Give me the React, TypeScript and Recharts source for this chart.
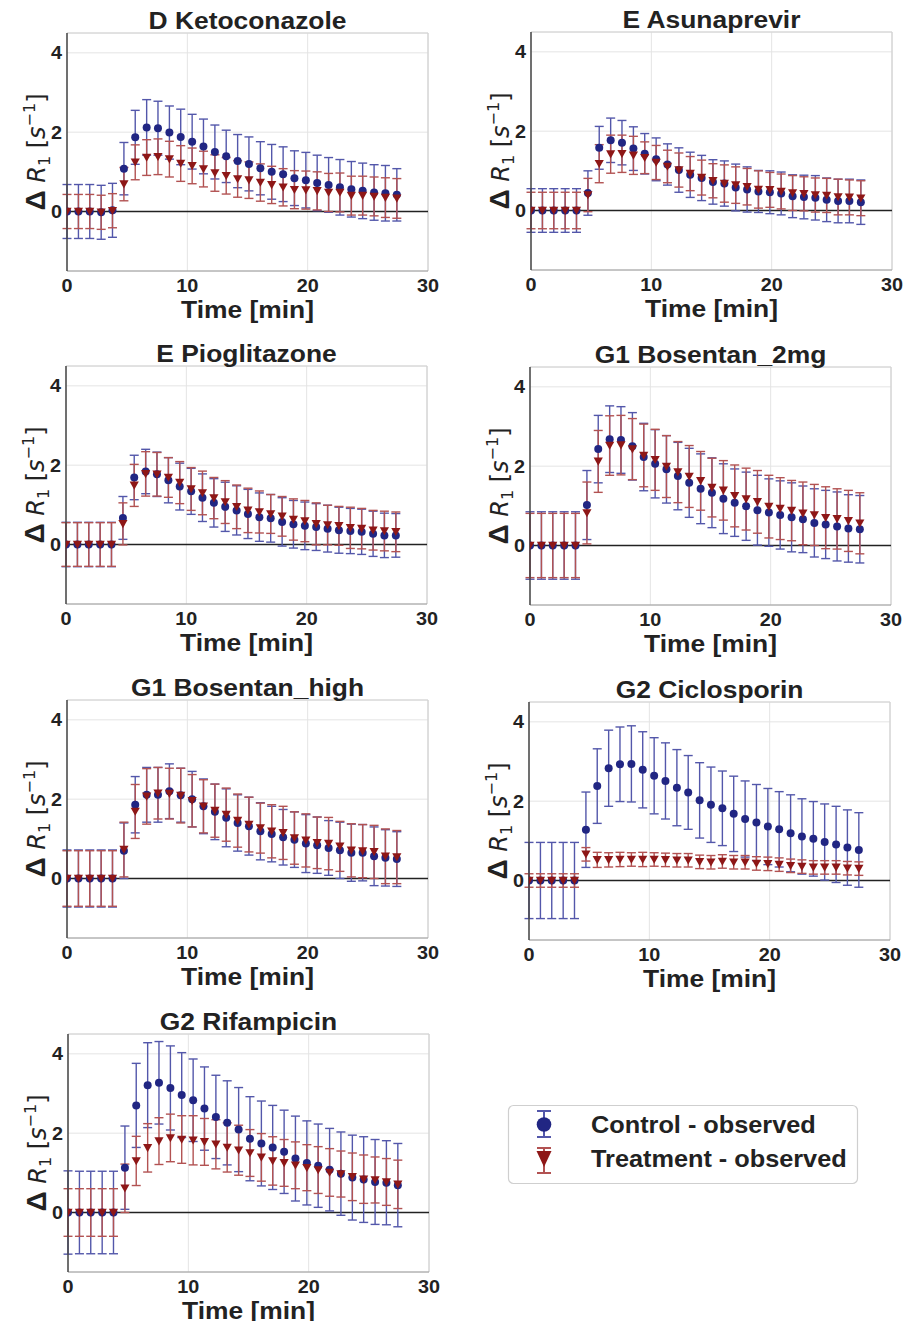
import React from "react";
import { ScatterChart, Scatter, XAxis, YAxis, CartesianGrid, ErrorBar, ReferenceLine } from "recharts";

// sampling times (min)
const times = [0, 0.95, 1.89, 2.84, 3.78, 4.73, 5.67, 6.62, 7.56, 8.51, 9.45, 10.4, 11.34, 12.29, 13.23, 14.18, 15.12, 16.07, 17.01, 17.96, 18.9, 19.85, 20.79, 21.74, 22.68, 23.63, 24.57, 25.52, 26.46, 27.41];

const ketoCtrl = [0, 0, 0, -0.02, 0.03, 1.08, 1.87, 2.12, 2.1, 1.99, 1.88, 1.76, 1.64, 1.5, 1.39, 1.27, 1.2, 1.09, 1.0, 0.94, 0.84, 0.79, 0.72, 0.67, 0.61, 0.56, 0.52, 0.48, 0.46, 0.42];
const ketoCtrlErr = [0.68, 0.68, 0.68, 0.68, 0.68, 0.66, 0.68, 0.7, 0.68, 0.67, 0.7, 0.69, 0.69, 0.68, 0.66, 0.67, 0.68, 0.67, 0.69, 0.69, 0.69, 0.7, 0.7, 0.69, 0.7, 0.7, 0.7, 0.7, 0.7, 0.66];
const ketoTrt = [0, 0, 0, -0.02, 0.02, 0.69, 1.24, 1.36, 1.38, 1.32, 1.21, 1.15, 1.07, 0.97, 0.9, 0.82, 0.79, 0.73, 0.67, 0.61, 0.55, 0.54, 0.52, 0.48, 0.48, 0.4, 0.4, 0.38, 0.35, 0.33];
const ketoTrtErr = [0.43, 0.43, 0.43, 0.43, 0.43, 0.42, 0.44, 0.45, 0.45, 0.45, 0.45, 0.45, 0.45, 0.46, 0.46, 0.46, 0.46, 0.47, 0.47, 0.47, 0.48, 0.48, 0.48, 0.48, 0.49, 0.49, 0.49, 0.49, 0.5, 0.5];

const asunCtrl = [0, 0, 0, 0, 0, 0.44, 1.58, 1.77, 1.71, 1.56, 1.43, 1.29, 1.16, 1.02, 0.9, 0.82, 0.72, 0.68, 0.58, 0.53, 0.48, 0.46, 0.43, 0.36, 0.34, 0.32, 0.27, 0.24, 0.24, 0.21];
const asunCtrlErr = [0.55, 0.55, 0.55, 0.55, 0.55, 0.56, 0.54, 0.56, 0.56, 0.55, 0.51, 0.54, 0.52, 0.56, 0.57, 0.57, 0.56, 0.57, 0.59, 0.57, 0.53, 0.54, 0.54, 0.54, 0.55, 0.56, 0.55, 0.55, 0.55, 0.56];
const asunTrt = [0, 0, 0, 0, 0, 0.39, 1.18, 1.42, 1.43, 1.39, 1.33, 1.21, 1.11, 1.02, 0.93, 0.83, 0.75, 0.68, 0.64, 0.6, 0.53, 0.52, 0.48, 0.44, 0.42, 0.39, 0.38, 0.34, 0.33, 0.31];
const asunTrtErr = [0.46, 0.46, 0.46, 0.46, 0.46, 0.42, 0.48, 0.48, 0.47, 0.48, 0.4, 0.43, 0.41, 0.43, 0.43, 0.44, 0.43, 0.47, 0.46, 0.46, 0.47, 0.44, 0.44, 0.44, 0.43, 0.43, 0.43, 0.45, 0.44, 0.44];

const pioCtrl = [0, 0, 0, 0, 0, 0.67, 1.69, 1.84, 1.77, 1.62, 1.46, 1.34, 1.18, 1.05, 0.95, 0.86, 0.77, 0.69, 0.66, 0.57, 0.51, 0.47, 0.44, 0.4, 0.36, 0.34, 0.32, 0.27, 0.23, 0.23];
const pioCtrlErr = [0.56, 0.56, 0.56, 0.56, 0.56, 0.54, 0.56, 0.56, 0.56, 0.57, 0.59, 0.58, 0.6, 0.61, 0.62, 0.62, 0.62, 0.61, 0.6, 0.61, 0.6, 0.6, 0.59, 0.59, 0.58, 0.57, 0.57, 0.57, 0.56, 0.55];
const pioTrt = [0, 0, 0, 0, 0, 0.52, 1.49, 1.78, 1.77, 1.69, 1.56, 1.4, 1.3, 1.17, 1.07, 0.95, 0.86, 0.82, 0.77, 0.71, 0.63, 0.59, 0.52, 0.49, 0.47, 0.42, 0.4, 0.36, 0.34, 0.32];
const pioTrtErr = [0.55, 0.55, 0.55, 0.55, 0.55, 0.53, 0.53, 0.56, 0.55, 0.5, 0.53, 0.54, 0.55, 0.52, 0.54, 0.55, 0.56, 0.53, 0.49, 0.5, 0.52, 0.52, 0.53, 0.5, 0.49, 0.52, 0.51, 0.5, 0.5, 0.5];

const bos2Ctrl = [0, 0, 0, 0, 0, 1.02, 2.43, 2.68, 2.66, 2.5, 2.23, 2.06, 1.92, 1.75, 1.58, 1.43, 1.33, 1.18, 1.08, 0.99, 0.89, 0.83, 0.77, 0.71, 0.66, 0.57, 0.53, 0.48, 0.43, 0.41];
const bos2CtrlErr = [0.85, 0.85, 0.85, 0.85, 0.85, 0.87, 0.85, 0.84, 0.84, 0.85, 0.85, 0.86, 0.85, 0.85, 0.87, 0.88, 0.88, 0.88, 0.85, 0.86, 0.88, 0.85, 0.86, 0.87, 0.84, 0.86, 0.86, 0.87, 0.85, 0.85];
const bos2Trt = [0, 0, 0, 0, 0, 0.82, 2.12, 2.52, 2.53, 2.43, 2.27, 2.16, 1.99, 1.85, 1.74, 1.63, 1.46, 1.39, 1.25, 1.17, 1.1, 0.98, 0.93, 0.88, 0.81, 0.77, 0.7, 0.67, 0.62, 0.56];
const bos2TrtErr = [0.81, 0.81, 0.81, 0.81, 0.81, 0.78, 0.78, 0.75, 0.75, 0.77, 0.79, 0.77, 0.78, 0.77, 0.78, 0.74, 0.74, 0.75, 0.78, 0.78, 0.79, 0.79, 0.78, 0.76, 0.79, 0.77, 0.78, 0.76, 0.77, 0.77];

const boshCtrl = [0, 0, 0, 0, 0, 0.7, 1.86, 2.11, 2.11, 2.2, 2.1, 2.0, 1.82, 1.68, 1.53, 1.4, 1.32, 1.19, 1.12, 1.04, 0.98, 0.88, 0.84, 0.77, 0.71, 0.65, 0.65, 0.56, 0.52, 0.49];
const boshCtrlErr = [0.72, 0.72, 0.72, 0.72, 0.72, 0.7, 0.71, 0.69, 0.69, 0.69, 0.68, 0.7, 0.69, 0.7, 0.73, 0.71, 0.73, 0.72, 0.7, 0.7, 0.7, 0.73, 0.71, 0.69, 0.71, 0.72, 0.71, 0.74, 0.71, 0.69];
const boshTrt = [0, 0, 0, 0, 0, 0.73, 1.69, 2.07, 2.15, 2.14, 2.09, 1.96, 1.82, 1.71, 1.61, 1.46, 1.36, 1.27, 1.19, 1.15, 1.02, 0.96, 0.9, 0.88, 0.81, 0.71, 0.69, 0.67, 0.56, 0.54];
const boshTrtErr = [0.7, 0.7, 0.7, 0.7, 0.7, 0.69, 0.68, 0.7, 0.65, 0.64, 0.69, 0.66, 0.67, 0.67, 0.67, 0.67, 0.69, 0.63, 0.67, 0.67, 0.66, 0.67, 0.65, 0.66, 0.63, 0.67, 0.67, 0.67, 0.69, 0.67];

const cicloCtrl = [0, 0, 0, 0, 0, 1.28, 2.38, 2.83, 2.93, 2.94, 2.79, 2.64, 2.51, 2.34, 2.22, 2.02, 1.91, 1.82, 1.68, 1.55, 1.46, 1.36, 1.29, 1.19, 1.11, 1.05, 0.97, 0.91, 0.83, 0.77];
const cicloCtrlErr = [0.96, 0.96, 0.96, 0.96, 0.96, 0.95, 0.94, 0.96, 0.94, 0.96, 0.96, 0.96, 0.96, 0.96, 0.93, 0.95, 0.95, 0.94, 0.95, 0.96, 0.96, 0.96, 0.95, 0.97, 0.95, 0.94, 0.96, 0.96, 0.95, 0.94];
const cicloTrt = [0, 0, 0, 0, 0, 0.66, 0.52, 0.52, 0.53, 0.53, 0.53, 0.53, 0.52, 0.51, 0.51, 0.47, 0.46, 0.48, 0.46, 0.46, 0.43, 0.42, 0.4, 0.37, 0.35, 0.33, 0.33, 0.33, 0.31, 0.3];
const cicloTrtErr = [0.17, 0.17, 0.17, 0.17, 0.17, 0.17, 0.19, 0.18, 0.18, 0.17, 0.18, 0.17, 0.17, 0.17, 0.17, 0.17, 0.17, 0.17, 0.17, 0.17, 0.17, 0.17, 0.17, 0.17, 0.17, 0.17, 0.17, 0.17, 0.17, 0.17];

const rifCtrl = [0, 0, 0, 0, 0, 1.13, 2.7, 3.21, 3.27, 3.14, 2.96, 2.83, 2.62, 2.41, 2.26, 2.09, 1.86, 1.74, 1.64, 1.53, 1.36, 1.25, 1.18, 1.08, 0.98, 0.88, 0.83, 0.77, 0.75, 0.69];
const rifCtrlErr = [1.05, 1.04, 1.04, 1.04, 1.04, 1.05, 1.06, 1.07, 1.04, 1.06, 1.07, 1.04, 1.05, 1.05, 1.06, 1.06, 1.06, 1.07, 1.06, 1.05, 1.07, 1.06, 1.05, 1.04, 1.05, 1.07, 1.08, 1.07, 1.06, 1.05];
const rifTrt = [0, 0, 0, 0, 0, 0.61, 1.3, 1.63, 1.8, 1.88, 1.84, 1.82, 1.78, 1.72, 1.64, 1.57, 1.5, 1.39, 1.3, 1.25, 1.19, 1.13, 1.07, 1.01, 0.97, 0.9, 0.84, 0.82, 0.77, 0.71];
const rifTrtErr = [0.6, 0.6, 0.6, 0.6, 0.6, 0.61, 0.62, 0.61, 0.59, 0.6, 0.6, 0.62, 0.59, 0.62, 0.62, 0.63, 0.59, 0.6, 0.61, 0.59, 0.59, 0.58, 0.59, 0.6, 0.58, 0.6, 0.61, 0.58, 0.59, 0.61];

const titles = ["D Ketoconazole", "E Asunaprevir", "E Pioglitazone", "G1 Bosentan_2mg", "G1 Bosentan_high", "G2 Ciclosporin", "G2 Rifampicin"];
const xTicks = [0, 10, 20, 30];
const yTicks = [0, 2, 4];
const legendLabels = ["Control - observed", "Treatment - observed"];

const CTRL = "#212683";
const CTRL_BAR = "#5357aa";
const TRT = "#8e1717";
const TRT_BAR = "#b25252";
const FONT = "'Liberation Sans', Arial, sans-serif";
const MATH = "'DejaVu Sans', sans-serif";
const SX = 1.1; // the reference lettering is a little wider than plain Arial

const series = [
  [ketoCtrl, ketoCtrlErr, ketoTrt, ketoTrtErr],
  [asunCtrl, asunCtrlErr, asunTrt, asunTrtErr],
  [pioCtrl, pioCtrlErr, pioTrt, pioTrtErr],
  [bos2Ctrl, bos2CtrlErr, bos2Trt, bos2TrtErr],
  [boshCtrl, boshCtrlErr, boshTrt, boshTrtErr],
  [cicloCtrl, cicloCtrlErr, cicloTrt, cicloTrtErr],
  [rifCtrl, rifCtrlErr, rifTrt, rifTrtErr],
];

// top-left corner of each plot area on the page
const plotPos = [
  { x: 66.5, y: 33 },
  { x: 530.5, y: 32 },
  { x: 65.7, y: 366 },
  { x: 530, y: 366.5 },
  { x: 66.7, y: 700 },
  { x: 529, y: 702 },
  { x: 68, y: 1034 },
];

const PW = 361;
const PH = 238;
const LEFT = 66;
const TOP = 33;

function SText({ x, y, size, anchor = "middle", dy, children }: any) {
  return (
    <text
      transform={`translate(${x} ${y}) scale(${SX} 1)`}
      textAnchor={anchor}
      dy={dy}
      fontFamily={FONT}
      fontWeight={700}
      fontSize={size}
      fill="#222"
    >
      {children}
    </text>
  );
}

const XTick = (p: any) => <SText x={p.x} y={p.y} size={18} dy="0.71em">{p.payload.value}</SText>;
const YTick = (p: any) => <SText x={p.x} y={p.y} size={18} anchor="end" dy="0.355em">{p.payload.value}</SText>;

const Dot = (p: any) => <circle cx={p.cx} cy={p.cy} r={4} fill={CTRL} />;
const Tri = (p: any) => (
  <path d={`M${p.cx - 4.6},${p.cy - 3.8}L${p.cx + 4.6},${p.cy - 3.8}L${p.cx},${p.cy + 4.3}Z`} fill={TRT} />
);

function Panel({ idx }: { idx: number }) {
  const [c, ce, t, te] = series[idx];
  const ctrl = times.map((x, i) => ({ t: x, v: c[i], e: ce[i] }));
  const trt = times.map((x, i) => ({ t: x, v: t[i], e: te[i] }));
  const pos = plotPos[idx];
  const w = LEFT + PW + 18;
  const h = TOP + PH + 30;
  const cx = LEFT + PW / 2;
  const cy = TOP + PH / 2;
  return (
    <div style={{ position: "absolute", left: pos.x - LEFT, top: pos.y - TOP, width: w, height: h + 30 }}>
      <ScatterChart width={w} height={h} margin={{ top: TOP, right: 18, bottom: 0, left: 0 }}>
        <CartesianGrid stroke="#e4e4e4" strokeWidth={1} />
        <XAxis
          type="number"
          dataKey="t"
          domain={[0, 30]}
          ticks={xTicks}
          allowDataOverflow
          height={30}
          tickLine={false}
          tickSize={6}
          tickMargin={2}
          axisLine={{ stroke: "#9a9a9a", strokeWidth: 1.2 }}
          tick={XTick}
        />
        <YAxis
          type="number"
          dataKey="v"
          domain={[-1.5, 4.5]}
          ticks={yTicks}
          allowDataOverflow
          width={LEFT}
          tickLine={false}
          tickSize={3}
          tickMargin={2}
          axisLine={{ stroke: "#444", strokeWidth: 1.5 }}
          tick={YTick}
        />
        <ReferenceLine y={4.5} stroke="#d2d2d2" strokeWidth={1.2} />
        <ReferenceLine x={30} stroke="#d2d2d2" strokeWidth={1.2} />
        <ReferenceLine y={0} stroke="#222" strokeWidth={1.6} />
        <Scatter data={ctrl} dataKey="v" shape={Dot} isAnimationActive={false}>
          <ErrorBar dataKey="e" direction="y" width={4.5} stroke={CTRL_BAR} strokeWidth={1.4} />
        </Scatter>
        <Scatter data={trt} dataKey="v" shape={Tri} isAnimationActive={false}>
          <ErrorBar dataKey="e" direction="y" width={4.5} stroke={TRT_BAR} strokeWidth={1.4} />
        </Scatter>
      </ScatterChart>
      <svg width={w} height={h + 30} style={{ position: "absolute", left: 0, top: 0, pointerEvents: "none" }}>
        <SText x={cx} y={TOP - 4.5} size={24}>{titles[idx]}</SText>
        <SText x={cx} y={TOP + PH + 47} size={24}>Time [min]</SText>
        <text
          x={44}
          y={cy}
          transform={`rotate(-90 44 ${cy})`}
          textAnchor="middle"
          fontFamily={MATH}
          fontSize={24}
          fill="#222"
        >
          <tspan fontFamily={FONT} fontWeight={700} fontSize={28}>Δ</tspan>
          <tspan> </tspan>
          <tspan fontStyle="italic">R</tspan>
          <tspan fontSize={16} dy={5}>1</tspan>
          <tspan dy={-5}> [</tspan>
          <tspan fontStyle="italic">s</tspan>
          <tspan fontSize={16} dy={-10}>−1</tspan>
          <tspan dy={10}>]</tspan>
        </text>
      </svg>
    </div>
  );
}

function LegendBox() {
  return (
    <svg width={370} height={100} style={{ position: "absolute", left: 500, top: 1095 }}>
      <rect x={8.5} y={10.5} width={349} height={78} rx={5} fill="#fff" stroke="#cfcfcf" strokeWidth={1.2} />
      <g stroke={CTRL_BAR} strokeWidth={2}>
        <line x1={44} y1={16} x2={44} y2={42} />
        <line x1={37} y1={16} x2={51} y2={16} />
        <line x1={37} y1={42} x2={51} y2={42} />
      </g>
      <circle cx={44} cy={29.5} r={7.3} fill={CTRL} />
      <g stroke={TRT_BAR} strokeWidth={2}>
        <line x1={44} y1={53} x2={44} y2={78} />
        <line x1={37} y1={53} x2={51} y2={53} />
        <line x1={37} y1={78} x2={51} y2={78} />
      </g>
      <path d="M36.5,56 L51.5,56 L44,72 Z" fill={TRT} />
      <SText x={91} y={37.5} size={23} anchor="start">{legendLabels[0]}</SText>
      <SText x={91} y={72} size={23} anchor="start">{legendLabels[1]}</SText>
    </svg>
  );
}

export default function App() {
  return (
    <div style={{ position: "absolute", left: 0, top: 0, width: 908, height: 1321, background: "#fff", fontFamily: FONT }}>
      {titles.map((_, i) => (
        <Panel key={i} idx={i} />
      ))}
      <LegendBox />
    </div>
  );
}
